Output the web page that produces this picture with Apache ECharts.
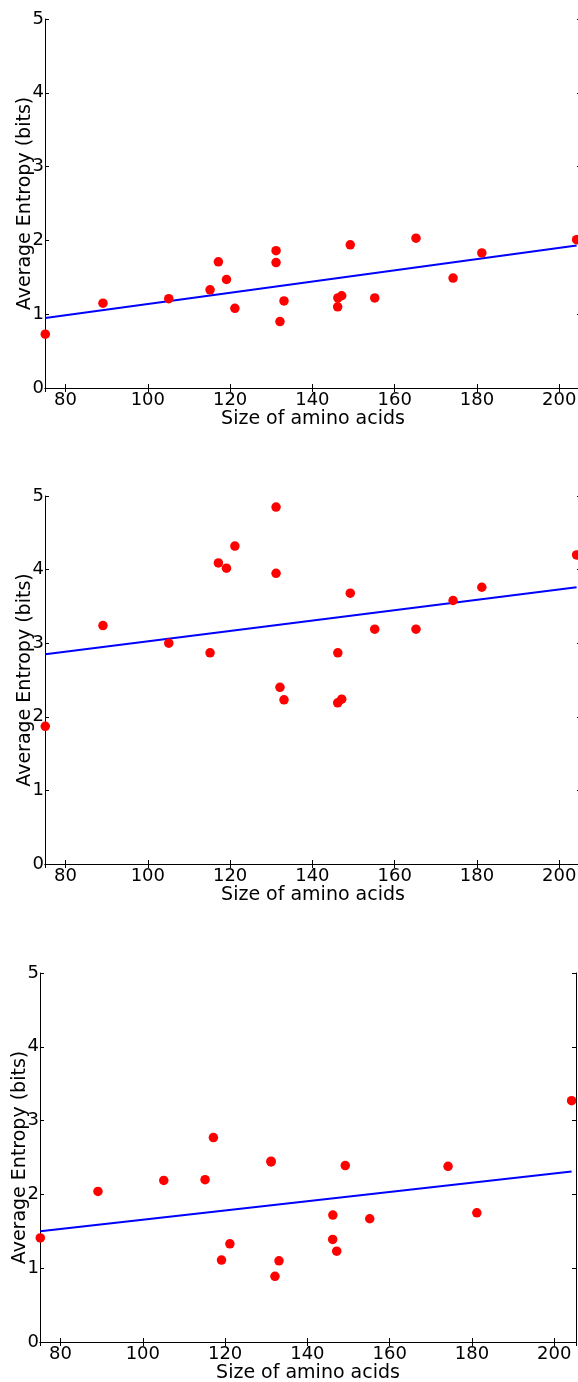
<!DOCTYPE html>
<html style='height: 100%'>
<head>
    <meta charset='utf-8'>
</head>
<body style='height: 100%; margin: 0; background: #fff'>
    <div id='container' style='width: 578px; height: 1382px'></div>
    <script type='text/javascript' src='https://cdn.jsdelivr.net/npm/echarts@6/dist/echarts.min.js'></script>
    <script type="text/javascript">

// amino acid sizes (Da), Gly ... Trp
var aminoSizes = [75.07, 89.09, 105.09, 115.13, 117.15, 119.12, 121.16, 131.17, 131.17, 132.12,
                  133.10, 146.15, 146.19, 147.13, 149.21, 155.16, 165.19, 174.20, 181.19, 204.23];

// average entropy per amino acid, one array per panel
var entropyTop = [0.73, 1.15, 1.21, 1.33, 1.71, 1.47, 1.08, 1.86, 1.70, 0.90,
                  1.18, 1.10, 1.22, 1.25, 1.94, 1.22, 2.03, 1.49, 1.83, 2.01];
var entropyMid = [1.87, 3.24, 3.00, 2.87, 4.09, 4.02, 4.32, 4.85, 3.95, 2.40,
                  2.23, 2.19, 2.87, 2.24, 3.68, 3.19, 3.19, 3.58, 3.76, 4.20];
var entropyBot = [1.41, 2.04, 2.19, 2.20, 2.77, 1.11, 1.33, 2.44, 2.45, 0.89,
                  1.10, 1.39, 1.72, 1.23, 2.39, 1.67, null, 2.38, 1.75, 3.27];

// fitted line end points (x from, x to / y from, y to)
var fitX = [75.07, 204.23];
var fitTop = [0.95, 1.93];
var fitMid = [2.85, 3.76];
var fitBot = [1.50, 2.31];

var xTitle = 'Size of amino acids';
var yTitle = 'Average Entropy (bits)';

var dom = document.getElementById("container");
var myChart = echarts.init(dom);

var grids = [
    {left: 45, top: 19, width: 536, height: 369},
    {left: 45, top: 496, width: 536, height: 368},
    {left: 40, top: 973, width: 536, height: 369}
];
var panels = [[entropyTop, fitTop], [entropyMid, fitMid], [entropyBot, fitBot]];

var font = 'DejaVu Sans';
var lineStyle = {color: '#000', width: 1};
var tick = {show: true, inside: true, length: 4, lineStyle: {color: '#000'}};

var xAxes = [], yAxes = [], series = [];

grids.forEach(function(g) {
    g.outerBoundsMode = 'none';
    g.containLabel = false;
});

for (let i = 0; i < 3; i++) {
    xAxes.push({
        type: 'value', gridIndex: i, position: 'bottom',
        min: 75, max: 205.3, splitNumber: 6,
        name: xTitle, nameLocation: 'middle', nameGap: 22, nameMoveOverlap: false,
        nameTextStyle: {fontFamily: font, fontSize: 19, color: '#000'},
        axisLine: {lineStyle: lineStyle}, axisTick: tick, splitLine: {show: false},
        axisLabel: {fontFamily: font, fontSize: 18, color: '#000', margin: 3,
            formatter: function(v) { return v % 20 === 0 ? String(v) : ''; }}
    });
    yAxes.push({
        type: 'value', gridIndex: i, position: 'left',
        min: 0, max: 5, interval: 1,
        name: yTitle, nameLocation: 'middle', nameGap: 10, nameMoveOverlap: false,
        nameTextStyle: {fontFamily: font, fontSize: 19, color: '#000'},
        axisLine: {lineStyle: lineStyle}, axisTick: tick, splitLine: {show: false},
        axisLabel: {fontFamily: font, fontSize: 18, color: '#000', margin: 1}
    });
}
for (let i = 0; i < 3; i++) {
    xAxes.push({
        type: 'value', gridIndex: i, position: 'top',
        min: 75, max: 205.3, splitNumber: 6,
        axisLine: {lineStyle: lineStyle}, axisTick: tick, splitLine: {show: false},
        axisLabel: {show: false}
    });
    yAxes.push({
        type: 'value', gridIndex: i, position: 'right',
        min: 0, max: 5, interval: 1,
        axisLine: {lineStyle: lineStyle}, axisTick: tick, splitLine: {show: false},
        axisLabel: {show: false}
    });
}

panels.forEach(function(p, i) {
    let pts = [];
    for (let k = 0; k < aminoSizes.length; k++) {
        if (p[0][k] !== null) pts.push([aminoSizes[k], p[0][k]]);
    }
    series.push({
        type: 'line', xAxisIndex: i, yAxisIndex: i,
        data: [[fitX[0], p[1][0]], [fitX[1], p[1][1]]],
        showSymbol: false, symbol: 'none', silent: true,
        lineStyle: {color: '#0000ff', width: 2}, z: 2
    });
    series.push({
        type: 'scatter', xAxisIndex: i, yAxisIndex: i,
        data: pts, symbol: 'circle', symbolSize: 9.5,
        itemStyle: {color: '#ff0000', opacity: 1}, z: 3
    });
});

var option = {
    animation: false,
    backgroundColor: '#fff',
    grid: grids,
    xAxis: xAxes,
    yAxis: yAxes,
    series: series
};

myChart.setOption(option, true);
       </script>
   </body>
</html>
